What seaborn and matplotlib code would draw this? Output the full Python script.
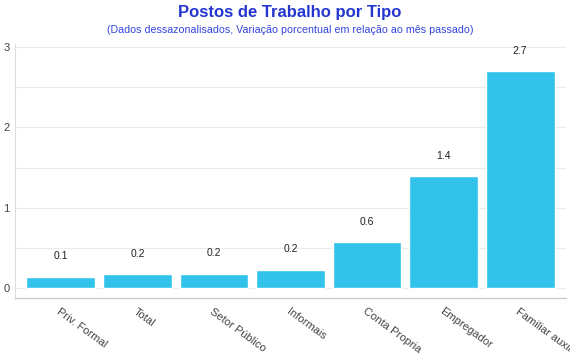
import matplotlib
matplotlib.use("Agg")
import matplotlib.pyplot as plt
import seaborn as sns
import pandas as pd
from matplotlib.ticker import MultipleLocator

# data
categorias = ["Priv. Formal", "Total", "Setor Público", "Informais",
              "Conta Propria", "Empregador", "Familiar auxiliar"]
variacao = [0.14, 0.17, 0.18, 0.23, 0.57, 1.39, 2.70]

df = pd.DataFrame({"tipo": categorias, "var": variacao})

sns.set_style("white")
plt.rcParams["font.family"] = ["Liberation Sans", "DejaVu Sans"]

fig = plt.figure(figsize=(5.7, 3.6), dpi=100)
ax = fig.add_axes([15 / 570, 1 - 298 / 360, 551 / 570, 254 / 360])

sns.barplot(data=df, x="tipo", y="var", color="#32c3ea", saturation=1,
            width=0.9, ax=ax, zorder=3)

ax.bar_label(ax.containers[0], fmt="%.1f", padding=11, fontsize=7.5, color="#222222")

ax.set_xlim(-0.6, 6.6)
ax.set_ylim(-0.125, 3.04)
ax.yaxis.set_major_locator(MultipleLocator(1))
ax.yaxis.set_minor_locator(MultipleLocator(0.5))
ax.grid(axis="y", which="both", color="#ebebeb", linewidth=0.8, zorder=0)
ax.set_axisbelow(True)

ax.set_xlabel("")
ax.set_ylabel("")
ax.tick_params(axis="both", length=0, labelsize=8, colors="#444444")
ax.tick_params(axis="y", which="minor", length=0)
ax.tick_params(axis="y", pad=4)
ax.tick_params(axis="x", pad=6)
plt.setp(ax.get_xticklabels(), rotation=-36, ha="left", rotation_mode="anchor")

for s in ["top", "right"]:
    ax.spines[s].set_visible(False)
ax.spines["left"].set_color("#dddddd")
ax.spines["bottom"].set_color("#cccccc")
ax.spines["left"].set_linewidth(0.8)
ax.spines["bottom"].set_linewidth(1.0)

cx = 290 / 570
fig.text(cx, 1 - 12 / 360, "Postos de Trabalho por Tipo", ha="center", va="center",
         fontsize=12, fontweight="bold", color="#2536d0")
fig.text(cx, 1 - 30 / 360,
         "(Dados dessazonalisados, Variação porcentual em relação ao mês passado)",
         ha="center", va="center", fontsize=7.7, color="#3344dd")

fig.savefig("out.png", dpi=100)
